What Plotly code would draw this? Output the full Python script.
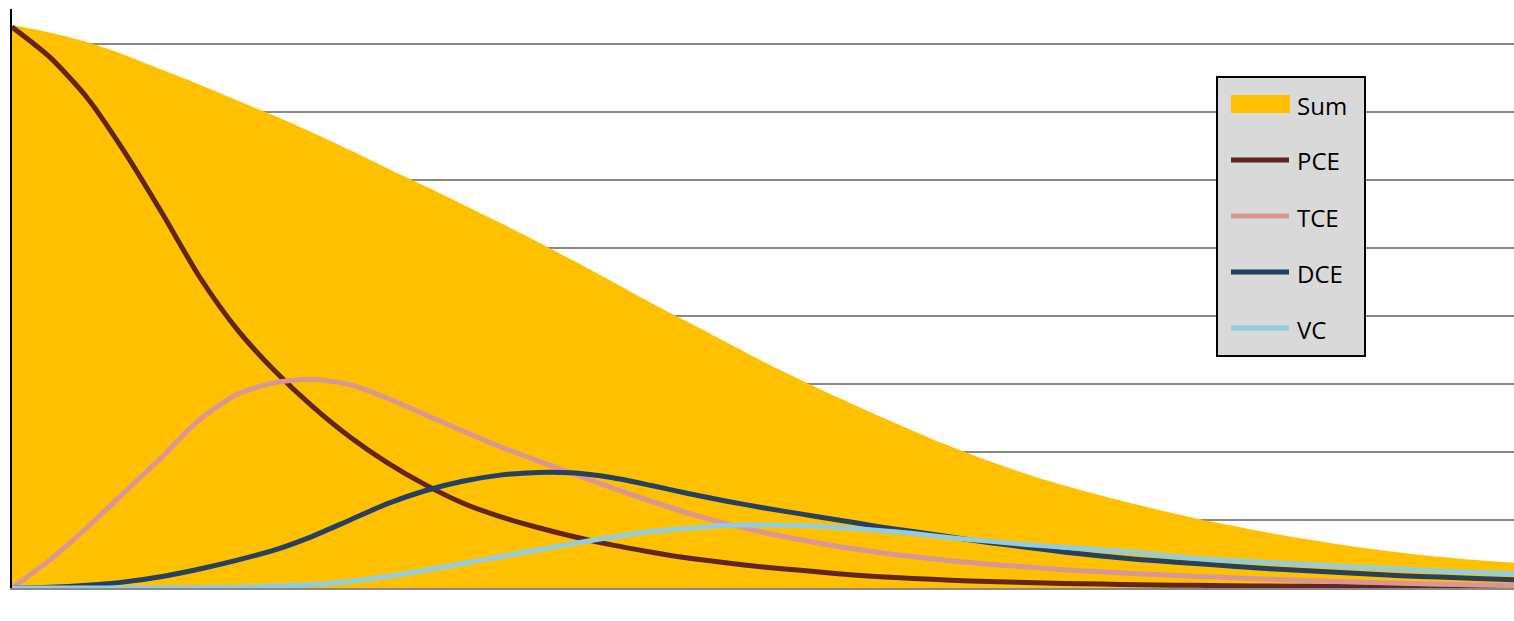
import plotly.graph_objects as go

# Time axis (arbitrary units) and concentration profiles
t = [i * 2.5 for i in range(41)]

pce = [8.25, 7.81, 7.21, 6.41, 5.51, 4.57, 3.80, 3.19, 2.67, 2.22,
       1.84, 1.52, 1.25, 1.05, 0.89, 0.75, 0.63, 0.53, 0.44, 0.37,
       0.31, 0.26, 0.21, 0.17, 0.14, 0.115, 0.095, 0.08, 0.067, 0.057,
       0.049, 0.042, 0.036, 0.031, 0.027, 0.023, 0.02, 0.017, 0.014, 0.012,
       0.01]
tce = [0.00, 0.41, 0.89, 1.41, 1.93, 2.48, 2.85, 3.02, 3.07, 2.99,
       2.79, 2.55, 2.31, 2.08, 1.87, 1.67, 1.47, 1.28, 1.10, 0.95,
       0.82, 0.71, 0.61, 0.53, 0.46, 0.40, 0.35, 0.31, 0.27, 0.24,
       0.21, 0.185, 0.16, 0.14, 0.12, 0.10, 0.085, 0.07, 0.055, 0.045,
       0.035]
dce = [0.00, 0.01, 0.04, 0.09, 0.17, 0.28, 0.41, 0.56, 0.76, 1.00,
       1.24, 1.43, 1.57, 1.66, 1.70, 1.69, 1.62, 1.51, 1.39, 1.28,
       1.18, 1.09, 1.00, 0.91, 0.83, 0.75, 0.67, 0.60, 0.53, 0.47,
       0.42, 0.38, 0.34, 0.30, 0.27, 0.24, 0.21, 0.18, 0.16, 0.14,
       0.12]
vc = [0.00, 0.00, 0.00, 0.00, 0.00, 0.005, 0.01, 0.03, 0.05, 0.10,
      0.17, 0.26, 0.36, 0.46, 0.56, 0.66, 0.75, 0.83, 0.88, 0.92,
      0.93, 0.92, 0.89, 0.85, 0.80, 0.74, 0.69, 0.64, 0.60, 0.56,
      0.52, 0.46, 0.42, 0.39, 0.36, 0.33, 0.30, 0.28, 0.25, 0.23,
      0.21]
total = [8.28, 8.17, 8.03, 7.84, 7.62, 7.40, 7.17, 6.94, 6.70, 6.44,
         6.17, 5.91, 5.64, 5.37, 5.09, 4.80, 4.50, 4.20, 3.91, 3.62,
         3.33, 3.06, 2.80, 2.55, 2.31, 2.08, 1.87, 1.68, 1.51, 1.36,
         1.22, 1.09, 0.97, 0.86, 0.76, 0.67, 0.59, 0.52, 0.46, 0.41,
         0.37]

series_names = ["Sum", "PCE", "TCE", "DCE", "VC"]
colors = {"Sum": "#FFC000", "PCE": "#632523", "TCE": "#D99694",
          "DCE": "#254061", "VC": "#93CDDD"}

W, H = 1514, 621
L, R, T, B = 12, 1514, 9, 588  # plot area edges in pixels


def xp(px):
    return (px - L) / (R - L)


def yp(py):
    return (B - py) / (B - T)


fig = go.Figure()

fig.add_trace(go.Scatter(
    x=t, y=total, name="Sum", mode="lines", fill="tozeroy",
    fillcolor=colors["Sum"], line=dict(width=0, shape="spline", smoothing=0.7),
    showlegend=False,
))
for name, vals in (("PCE", pce), ("TCE", tce), ("DCE", dce), ("VC", vc)):
    fig.add_trace(go.Scatter(
        x=t, y=vals, name=name, mode="lines",
        line=dict(color=colors[name], width=5, shape="spline", smoothing=0.7),
        showlegend=False,
    ))

# Legend panel
shapes = [dict(type="rect", xref="paper", yref="paper",
               x0=xp(1217), x1=xp(1365), y0=yp(356), y1=yp(77),
               fillcolor="#D9D9D9", line=dict(color="black", width=2),
               layer="above")]
annotations = []
rows = [104, 160, 216, 272, 328]
for name, cy in zip(series_names, rows):
    if name == "Sum":
        shapes.append(dict(type="rect", xref="paper", yref="paper",
                           x0=xp(1231), x1=xp(1290), y0=yp(113), y1=yp(95),
                           fillcolor=colors[name], line=dict(width=0),
                           layer="above"))
    else:
        shapes.append(dict(type="line", xref="paper", yref="paper",
                           x0=xp(1231), x1=xp(1289), y0=yp(cy), y1=yp(cy),
                           line=dict(color=colors[name], width=5),
                           layer="above"))
    annotations.append(dict(xref="paper", yref="paper", x=xp(1295), y=yp(cy + 1),
                            xanchor="left", yanchor="middle", text=name,
                            showarrow=False,
                            font=dict(family="Open Sans", size=24, color="black")))

fig.update_layout(
    width=W, height=H,
    margin=dict(l=L, r=W - R, t=T, b=H - B),
    paper_bgcolor="white", plot_bgcolor="white",
    showlegend=False,
    shapes=shapes, annotations=annotations,
    xaxis=dict(range=[0, 100], showgrid=False, zeroline=False,
               showticklabels=False, ticks="",
               showline=True, linecolor="#898989", linewidth=2),
    yaxis=dict(range=[0, (B - T) / 68], dtick=1, tick0=0,
               showgrid=True, gridcolor="#898989", gridwidth=2,
               zeroline=False, showticklabels=False, ticks="",
               showline=True, linecolor="black", linewidth=2),
)

fig.write_html("out.html")
